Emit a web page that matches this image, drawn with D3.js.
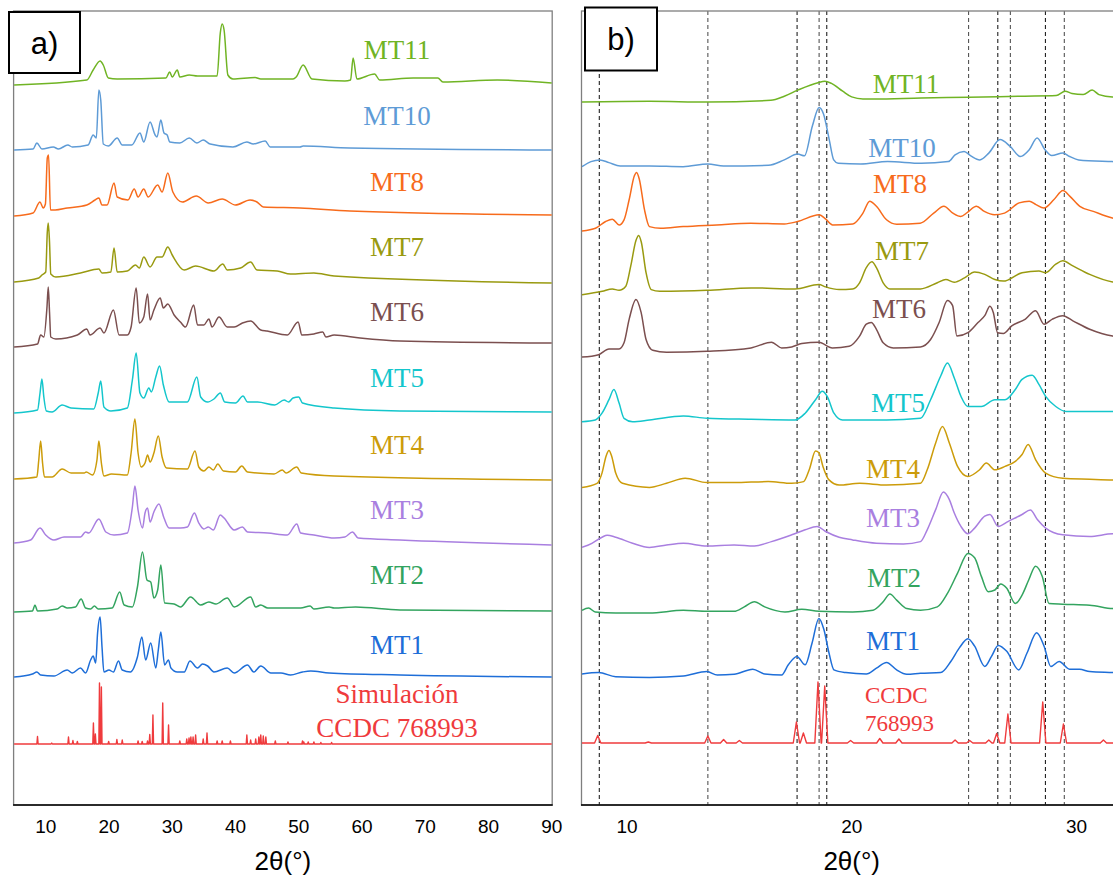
<!DOCTYPE html>
<html>
<head>
<meta charset="utf-8">
<script src="https://cdn.jsdelivr.net/npm/d3@7"></script>
<style>
  body { margin: 0; background: #fff; }
  svg { display: block; }
  .tick-label { font-family: "Liberation Sans", Arial, sans-serif; font-size: 19px; fill: #000; }
  .axis-title { font-family: "Liberation Sans", Arial, sans-serif; font-size: 26px; fill: #000; }
  .series-label { font-family: "Liberation Serif", "Times New Roman", serif; font-size: 27px; }
</style>
</head>
<body>
<svg id="chart"></svg>
<script>
const W = 1113, H = 876;

// ---- data ----
const samples = ["MT11", "MT10", "MT8", "MT7", "MT6", "MT5", "MT4", "MT3", "MT2", "MT1"];
const simName = ["Simulación", "CCDC 768993"];
const ticksA = [10, 20, 30, 40, 50, 60, 70, 80, 90];
const ticksB = [10, 20, 30];
// vertical offsets (a.u.) used to stack the patterns
const offsetsA = [720, 655, 589, 523, 458, 392, 325, 262, 193, 128];
const offsetsB = [703, 639, 575, 512, 452, 385, 320, 260, 193, 130];
const simOffsetA = 61, simOffsetB = 62;
// reference peak positions (2θ) marked in panel b
const refLines = [8.77, 13.6, 17.57, 18.55, 18.89, 25.2, 26.5, 27.06, 28.62, 29.46];

// panel a: full range 5-90
const mt11A = [[5,0],[16.5,5],[17.5,15],[18.6,24],[19.1,20],[19.9,7],[21.3,6],[29.0,7],[29.6,13],[30.0,8],[30.8,15],[31.2,8],[32.7,10],[34,9],[37.1,9],[37.6,52],[37.9,61],[38.2,55],[38.8,10],[39.6,6],[43.1,7.5],[44,6],[49.1,6],[49.6,8],[50.7,20],[52.1,6],[57.3,4],[58.2,5],[58.6,27],[59.2,6],[62.0,11],[62.8,5],[68.1,7],[72.0,7],[72.8,3],[81.4,5],[90,2]];
const mt10A = [[5,0],[8.0,1],[8.6,7],[9.4,1],[11.2,3],[12,1],[13.5,5],[14.2,3],[16.7,5],[17.5,15],[18.0,12],[18.4,60],[18.7,50],[19.1,6],[19.9,4],[21.3,12],[22.1,5],[23.6,5],[24.9,17],[25.5,8],[26.5,28],[27.3,15],[27.6,13],[28.2,30],[28.7,17],[29.2,15],[29.6,8],[31.2,7],[32.7,12],[33.9,7],[34.9,10],[36.0,6],[39.6,3],[41.8,8],[42.8,6],[44.7,9],[45.5,3],[50.2,3],[50.7,4],[58,2],[90,0]];
const mt8A = [[5,0],[8.0,3],[9.1,14],[9.6,8],[9.95,12],[10.25,58],[10.45,61],[10.75,6],[11.5,6],[13.4,8],[16.5,11],[17.8,16],[18.4,18],[18.9,11],[19.7,11],[20.8,33],[21.3,19],[23.0,16],[24.0,27],[24.6,19],[25.5,27],[26.2,19],[27.7,31],[28.4,24],[29.3,43],[30.1,24],[31.6,14],[33.8,20],[35.7,13],[37.9,17],[40.0,11],[42.3,16],[43.4,14],[44.4,9],[50.2,8],[58.1,5],[90,1]];
const mt7A = [[5,0],[8.9,4],[9.4,7],[10.0,10],[10.25,50],[10.4,59],[10.6,40],[10.8,8],[11.6,5],[15.5,9],[18.4,13],[18.9,9],[20.3,10],[20.8,34],[21.3,10],[22.9,11],[24.2,17],[24.8,14],[25.5,25],[26.5,15],[27.6,25],[28.4,25],[29.3,35],[30.0,27],[31.9,12],[33.7,16],[36.6,11],[38.0,18],[38.7,12],[40.8,14],[42.4,20],[43.4,12],[46.6,11],[48.7,8],[52.4,9],[55.6,6],[90,-1]];
const mt6A = [[5,0],[8.7,3],[9.2,12],[9.7,10],[10.2,40],[10.4,60],[10.6,35],[10.8,10],[11.6,8],[15.0,12],[16.5,18],[17.0,12],[18.6,19],[19.2,14],[20.7,37],[21.6,12],[22.9,12],[23.5,20],[24.3,59],[24.8,24],[25.5,30],[26.1,53],[26.5,27],[27.1,37],[28.1,49],[28.6,39],[29.3,43],[30.3,32],[31.3,25],[32.1,20],[33.4,42],[34.0,22],[35.0,22],[35.8,28],[36.3,20],[37.4,30],[38.7,20],[39.8,20],[41.1,24],[42.4,26],[44.0,17],[45.0,16],[48.2,12],[49.9,25],[50.5,12],[52.4,13],[53.8,15],[54.3,10],[55.6,12],[59.7,9],[66,6],[90,4]];
const mt5A = [[5,0],[8.7,3],[9.1,20],[9.4,34],[9.7,16],[10.1,2],[11.0,1],[12.6,8],[14.0,5],[17.6,4],[18.3,20],[18.7,32],[19.2,6],[20.3,2],[22.9,5],[23.7,33],[24.3,60],[24.9,20],[25.5,15],[26.3,25],[26.7,21],[27.4,36],[28.0,47],[28.6,28],[29.5,11],[32.4,11],[33.9,36],[34.5,16],[35.6,11],[36.6,14],[37.6,20],[38.3,11],[40.0,10],[41.2,17],[41.9,11],[43.5,11],[46.2,8],[47.7,13],[48.4,11],[49.1,15],[50.0,16],[50.6,10],[55.6,5],[66,2],[90,1]];
const mt4A = [[5,1],[8.6,3],[8.9,20],[9.2,39],[9.5,17],[9.8,3],[11.0,3],[12.6,11],[14.0,7],[16.1,7],[16.4,8],[17.4,5],[18.1,20],[18.4,39],[18.8,17],[19.2,4],[20.4,6],[22.9,5],[23.5,27],[24.1,61],[24.6,27],[25.1,13],[25.7,17],[26.1,25],[26.5,18],[27.1,27],[27.8,44],[28.4,23],[29.1,12],[32.4,11],[33.6,29],[34.2,13],[35.0,9],[35.8,13],[36.5,10],[37.2,16],[38.1,9],[40.0,8],[41.0,14],[41.9,8],[46.1,6],[47.4,10],[48.0,7],[49.7,13],[50.4,7],[55.6,4],[90,0]];
const mt3A = [[5,0],[7.6,3],[9.1,15],[10.0,8],[11.3,3],[12.9,6],[15.5,6],[16.3,11],[16.8,10],[18.4,24],[19.5,11],[20.8,8],[22.9,10],[23.7,36],[24.1,57],[24.6,33],[25.3,15],[25.7,30],[26.1,35],[26.5,21],[27.1,31],[27.9,39],[28.7,25],[29.5,15],[31.3,15],[32.4,16],[33.5,30],[34.2,20],[35.0,14],[35.7,16],[36.5,13],[37.6,28],[38.2,25],[39.8,13],[41.1,16],[41.9,11],[45.1,10],[48.2,8],[49.7,19],[50.3,10],[52.4,8],[55.6,5],[57.3,6],[58.5,11],[59.4,5],[66,3],[90,-2]];
const mt2A = [[5,0],[7.9,1],[8.3,7],[8.7,1],[11.8,3],[12.6,6],[13.4,4],[14.7,5],[15.6,13],[16.3,4],[17.1,3],[17.7,6],[18.3,3],[20.5,4],[21.7,20],[22.4,7],[23.7,5],[24.5,25],[25.3,60],[26.0,32],[26.6,30],[27.1,14],[27.7,22],[28.2,47],[28.8,9],[30.3,8],[31.3,5],[32.9,15],[34.5,7],[35.8,10],[36.9,8],[38.7,14],[39.8,5],[42.4,15],[43.2,5],[44.0,7],[45.1,4],[47.2,4],[50.3,4],[51.8,6],[52.4,3],[54.8,5],[55.6,4],[59.0,5],[66,2],[90,1]];
const mt1A = [[5,0],[7.9,3],[8.6,5],[9.2,2],[11.3,1],[13.4,7],[14.2,4],[15.5,9],[16.3,4],[17.1,17],[17.5,21],[17.9,14],[18.2,44],[18.6,60],[18.9,30],[19.2,5],[20.0,7],[20.7,5],[21.5,16],[22.1,7],[23.4,5],[24.5,20],[25.2,40],[25.8,17],[26.6,34],[27.4,9],[27.8,27],[28.2,45],[28.8,12],[29.4,17],[29.8,9],[30.8,5],[31.9,5],[32.8,16],[34.0,9],[34.8,13],[35.6,11],[36.6,5],[38.7,9],[39.8,4],[41.9,12],[42.9,5],[44.0,11],[45.6,4],[47.2,4],[48.7,2],[50.6,5],[51.9,6],[54.8,4],[66,2],[90,0]];

// panel b: zoom 8-32
const mt11B = [[8,0],[11,0.7],[13.6,0],[16.4,1.7],[17.0,5.8],[17.6,11.9],[18.5,19.3],[18.8,20.7],[19.1,18.6],[19.6,10.8],[20.0,5.1],[20.5,3],[21,3],[23.1,4],[25.2,4.7],[27.6,5.8],[29.1,6.4],[29.5,10.8],[29.8,8.5],[30.3,7.4],[30.7,11.9],[31.0,7.4],[31.6,5.1],[32,5]];
const mt10B = [[8,-0.7],[8.4,4.4],[8.8,6.1],[9.2,3.4],[9.7,0],[11,0],[12.5,-0.7],[13.6,2],[14.3,0],[16.3,0.7],[17.0,6.1],[17.6,11.9],[17.9,10.2],[18.25,40],[18.55,58.6],[18.75,51.8],[19.0,26.4],[19.2,6.1],[19.4,2.7],[20.4,2],[21.6,4.4],[23.1,2.7],[24.3,4.4],[24.6,11.2],[25.0,14.6],[25.3,10.2],[25.7,6.1],[26.1,12.9],[26.6,26.4],[27.05,19.6],[27.5,9.5],[27.9,16.3],[28.25,28.1],[28.6,16.3],[28.9,10.5],[29.4,12.9],[29.7,9.5],[30.1,6.1],[31.6,4.4],[32,4]];
const mt8B = [[8,-1],[8.6,1.7],[9.05,8.5],[9.35,10.8],[9.65,5.1],[9.87,10.2],[10.1,30.5],[10.33,54.2],[10.43,57.6],[10.55,50.8],[10.78,20.3],[11.0,3.4],[11.5,1.7],[12.5,3.4],[14.0,5.1],[15.5,6.8],[17.0,6.1],[17.6,8.5],[18.55,15.2],[18.85,10.8],[19.15,5.1],[20.05,6.1],[20.5,16.9],[20.8,28.8],[21.1,23.7],[21.55,10.2],[22.0,5.8],[23.05,6.8],[23.65,16.9],[24.1,23.7],[24.5,16.9],[24.85,13.5],[25.15,17.6],[25.55,23.7],[25.9,18.6],[26.35,15.2],[26.8,16.9],[27.45,27.1],[27.9,28.8],[28.2,25.4],[28.55,22],[29.0,30.5],[29.4,39.6],[29.7,33.9],[30.15,23.7],[30.75,18.6],[31.6,11.9],[32,10]];
const mt7B = [[8,-1.7],[8.9,1.7],[9.35,4.1],[9.65,2.7],[9.95,6.8],[10.17,27.1],[10.4,52.5],[10.52,57.6],[10.64,50.8],[10.85,20.3],[11.08,3.4],[11.46,1.7],[13.56,2.7],[15.52,5.1],[17.48,4.1],[18.54,8.5],[18.84,6.1],[19.44,3.4],[20.04,4.1],[20.35,10.2],[20.65,25.4],[20.9,31.2],[21.1,25.4],[21.4,10.2],[21.7,4.1],[23.06,4.1],[23.81,10.2],[24.19,13.5],[24.56,10.8],[25.02,15.2],[25.47,21],[25.92,18.6],[26.37,13.5],[26.75,11.9],[27.58,20.3],[28.33,22],[28.63,20.3],[29.08,28.8],[29.39,32.2],[29.84,27.1],[30.59,18.6],[31.61,11],[32,10]];
const mt6B = [[8,-4.1],[8.74,-1.7],[9.2,4.1],[9.65,4.1],[9.87,10.2],[10.1,33.9],[10.4,53.5],[10.63,40.6],[10.85,13.5],[11.15,2.7],[11.76,0.7],[13.56,1.7],[15.52,5.1],[16.43,10.8],[16.88,5.1],[17.33,6.1],[17.78,9.5],[18.54,10.8],[19.14,5.1],[19.89,6.8],[20.35,16.9],[20.65,28.8],[20.87,30.5],[21.1,23.7],[21.4,10.2],[21.85,5.1],[23.06,6.1],[23.51,13.5],[23.89,30.5],[24.26,52.5],[24.49,47.4],[24.68,16.9],[25.17,20.3],[25.62,30.5],[25.92,37.3],[26.15,46.7],[26.3,40.6],[26.49,20.3],[26.75,19.6],[27.12,27.1],[27.73,33.9],[28.18,42.3],[28.56,28.8],[28.93,33.9],[29.39,37.3],[29.84,32.2],[30.59,23.7],[31.61,16.9],[32,16]];
const mt5B = [[8,-1.7],[8.59,0],[8.89,6.8],[9.2,20.3],[9.42,30.5],[9.65,16.9],[9.87,1.7],[10.25,-1.7],[11.0,0],[12.51,4.1],[13.56,1.7],[15.52,0.7],[17.48,0],[17.93,6.8],[18.39,20.3],[18.69,28.8],[18.91,23.7],[19.21,6.8],[19.59,0],[21.55,0],[23.06,1.7],[23.51,20.3],[23.96,44],[24.26,56.9],[24.56,42.3],[24.86,23.7],[25.17,13.5],[25.77,13.5],[26.37,20.3],[26.82,20.3],[27.28,30.5],[27.58,40.6],[28.03,44.7],[28.33,35.6],[28.63,23.7],[29.08,13.5],[29.54,8.5],[31.61,8.5],[32,8.5]];
const mt4B = [[8,-2.4],[8.67,1.7],[8.89,11.9],[9.07,28.8],[9.2,34.5],[9.32,28.8],[9.5,11.9],[9.8,1.7],[11.0,-2.4],[11.76,1.7],[12.59,6.8],[13.56,2.4],[14.77,2.4],[16.28,3.4],[17.33,1.7],[17.86,3.4],[18.11,15.2],[18.39,33.9],[18.54,32.2],[18.72,18.6],[18.99,5.1],[19.44,0],[20.35,1.7],[21.55,0],[23.06,1.7],[23.36,15.2],[23.74,42.3],[24.04,58.6],[24.34,42.3],[24.71,18.6],[25.17,8.5],[25.69,15.2],[25.99,22],[26.37,15.2],[26.82,18.6],[27.28,23.7],[27.58,30.5],[27.85,40.6],[28.18,25.4],[28.63,11.9],[29.39,6.8],[30.59,5.8],[31.61,5.1],[32,5]];
const mt3B = [[8,-2.4],[8.44,1.7],[8.89,7.8],[9.12,9.8],[9.5,7.8],[10.25,1.7],[11.0,-2.4],[11.76,0],[12.51,1.7],[13.56,-1],[14.77,0],[15.67,-1],[16.43,3.4],[17.33,10.2],[17.93,15.2],[18.46,18.6],[18.84,13.5],[19.44,7.8],[20.04,5.1],[21.1,1.7],[22.3,1],[23.06,3.4],[23.36,15.2],[23.74,35.6],[24.08,53.1],[24.34,45.7],[24.56,32.2],[24.86,18.6],[25.17,11.2],[25.47,16.9],[25.92,28.8],[26.15,30.5],[26.52,18.6],[26.97,23.7],[27.58,30.5],[27.95,34.9],[28.26,25.4],[28.63,16.9],[29.39,10.2],[30.59,8.5],[31.61,11.2],[32,11]];
const mt2B = [[8,1.7],[8.29,4.1],[8.59,0],[9.5,-1],[11.0,-1],[12.51,1.7],[13.56,0.7],[14.77,0.7],[15.22,5.1],[15.67,10.2],[16.13,5.1],[17.03,0],[17.78,2.7],[18.54,0.7],[20.04,0],[20.95,1.7],[21.4,10.2],[21.7,17.9],[22.0,11.9],[22.45,3.4],[23.06,1.7],[23.81,5.1],[24.26,18.6],[24.71,38.9],[25.17,58.6],[25.47,54.2],[25.77,35.6],[26.07,20.3],[26.37,22],[26.63,28.1],[26.9,23.7],[27.28,8.5],[27.58,16.9],[27.88,32.2],[28.18,45.7],[28.48,35.6],[28.78,8.5],[29.39,7.8],[30.59,6.8],[31.61,3.4],[32,3]];
const mt1B = [[8,1],[8.74,2.4],[9.5,-1.7],[11.0,-2.4],[12.51,-1],[13.56,3.4],[14.02,0],[14.77,0.7],[15.6,5.8],[16.13,1],[16.88,0],[17.18,10.2],[17.56,18.6],[17.93,10.2],[18.24,32.2],[18.54,56.6],[18.76,45.7],[18.99,22],[19.21,5.1],[19.74,2.4],[20.65,1],[21.1,6.8],[21.55,12.5],[22.0,5.1],[22.45,0.7],[23.06,1.7],[23.96,2.4],[24.41,13.5],[24.79,27.1],[25.17,36.2],[25.47,28.8],[25.92,8.5],[26.22,18.6],[26.52,29.5],[26.9,23.7],[27.43,5.1],[27.8,22],[28.23,42.3],[28.56,28.8],[28.86,8.5],[29.23,13.5],[29.69,5.8],[30.14,5.8],[30.59,3.4],[31.61,2.4],[32,2]];

// simulated pattern (CCDC 768993): peak position, intensity
const simPeaks = [[8.7,7.5],[10.95,1],[13.6,7],[14.3,3.5],[15.0,2.5],[17.54,21],[17.85,10],[18.5,61],[18.8,57],[19.95,2.5],[21.25,4.5],[22.1,4],[24.6,3],[25.25,2.5],[26.1,3],[26.45,9.5],[26.95,29],[28.5,41],[29.42,19],[31.2,3],[32.3,5],[32.66,6],[32.95,7],[33.3,7],[33.7,9],[34.9,5],[35.5,11],[37.1,3],[37.9,3],[39.2,3],[41.8,9],[42.4,4],[43.2,5],[43.7,7],[44.0,9],[44.4,8],[44.8,7],[46.3,3],[48.3,2],[50.6,3],[50.8,2],[51.5,2],[52.4,2],[53.5,1.5],[55.2,1.5]];

const seriesA = [mt11A, mt10A, mt8A, mt7A, mt6A, mt5A, mt4A, mt3A, mt2A, mt1A];
const seriesB = [mt11B, mt10B, mt8B, mt7B, mt6B, mt5B, mt4B, mt3B, mt2B, mt1B];

// ---- styles / layout ----
const colors = ["#70b424", "#5e9bd6", "#f76b1c", "#999a10", "#7b4f4f", "#14c6cc", "#cc9c0a", "#a97fe0", "#33a45f", "#1e6ed8"];
const simColor = "#ef3b3d";
const labelA = [59, 125, 191, 256, 321, 387, 454, 519, 584, 654];
const labelBx = [906, 902, 900, 902, 899, 898, 893, 893, 894, 893];
const labelBy = [93, 157, 193, 260, 318, 412, 478, 527, 587, 650];

const plotTop = 11, plotBottom = 805;

const svg = d3.select("#chart").attr("width", W).attr("height", H);

const y = d3.scaleLinear().domain([0, 794]).range([plotBottom, plotTop]);
const xA = d3.scaleLinear().domain([5, 90]).range([14.1, 551.7]);
const xB = d3.scaleLinear().domain([8, 32]).range([582, 1121.4]);

svg.append("clipPath").attr("id", "clipB")
  .append("rect").attr("x", 582).attr("y", plotTop).attr("width", W - 582).attr("height", plotBottom - plotTop);

/** Build a stick-like line from the simulated peak list */
const simLine = (dom, w) => {
  const pts = [[dom[0], 0]];
  simPeaks.filter((p) => p[0] > dom[0] && p[0] < dom[1])
    .forEach(([px, h]) => { pts.push([px - w, 0], [px, h], [px + w, 0]); });
  pts.push([dom[1], 0]);
  return pts;
};

function drawPanel(g, x, series, offsets, simOffset, simW, ticks) {
  const [x0, x1] = x.range();

  // frame
  g.append("rect")
    .attr("x", x0 - 0.5).attr("y", plotTop)
    .attr("width", x1 - x0 + 1).attr("height", plotBottom - plotTop)
    .attr("fill", "none").attr("stroke", "#7f7f7f").attr("stroke-width", 1.3);
  g.append("line")
    .attr("x1", x0 - 1).attr("x2", x1 + 1).attr("y1", plotBottom).attr("y2", plotBottom)
    .attr("stroke", "#000").attr("stroke-width", 1.5);

  // tick labels
  g.selectAll(".tick-label").data(ticks).enter().append("text")
    .attr("class", "tick-label")
    .attr("x", (d) => x(d)).attr("y", 833)
    .attr("text-anchor", "middle")
    .text((d) => d);

  g.append("text").attr("class", "axis-title")
    .attr("x", x(x.domain()[0] + (x === xA ? 42.5 : 12)) - (x === xA ? 0 : 0))
    .attr("y", 870).attr("text-anchor", "middle")
    .text("2θ(°)");

  const plot = g.append("g");

  series.forEach((data, i) => {
    const line = d3.line()
      .x((d) => x(d[0]))
      .y((d) => y(d[1] + offsets[i]))
      .curve(d3.curveMonotoneX);
    plot.append("path")
      .attr("d", line(data))
      .attr("fill", "none")
      .attr("stroke", colors[i])
      .attr("stroke-width", 1.5)
      .attr("stroke-linejoin", "round");
  });

  const sLine = d3.line()
    .x((d) => x(d[0]))
    .y((d) => y(d[1] + simOffset));
  plot.append("path")
    .attr("d", sLine(simLine(x.domain(), simW)))
    .attr("fill", "none")
    .attr("stroke", simColor)
    .attr("stroke-width", 1.4)
    .attr("stroke-linejoin", "round");

  return plot;
}

// panel a
const gA = svg.append("g");
drawPanel(gA, xA, seriesA, offsetsA, simOffsetA, 0.1, ticksA);
gA.selectAll(".series-label").data(samples).enter().append("text")
  .attr("class", "series-label")
  .attr("x", 397).attr("y", (d, i) => labelA[i])
  .attr("text-anchor", "middle")
  .attr("fill", (d, i) => colors[i])
  .text((d) => d);
gA.selectAll(".sim-label").data(simName).enter().append("text")
  .attr("class", "series-label sim-label")
  .attr("x", 397).attr("y", (d, i) => [703, 737][i])
  .attr("text-anchor", "middle")
  .attr("fill", simColor)
  .text((d) => d);

// panel b
const gB = svg.append("g");
// reference dashed lines first so the patterns sit on top
gB.selectAll(".ref").data(refLines).enter().append("line")
  .attr("x1", (d) => xB(d)).attr("x2", (d) => xB(d))
  .attr("y1", plotTop).attr("y2", plotBottom)
  .attr("stroke", (d, i) => (i % 2 ? "#555" : "#222"))
  .attr("stroke-width", 1.1)
  .attr("stroke-dasharray", "4,3");
const plotB = drawPanel(gB, xB, seriesB, offsetsB, simOffsetB, 0.14, ticksB);
plotB.attr("clip-path", "url(#clipB)");
gB.selectAll(".series-label").data(samples).enter().append("text")
  .attr("class", "series-label")
  .attr("x", (d, i) => labelBx[i]).attr("y", (d, i) => labelBy[i])
  .attr("text-anchor", "middle")
  .attr("fill", (d, i) => colors[i])
  .text((d) => d);
gB.selectAll(".sim-label").data(["CCDC", "768993"]).enter().append("text")
  .attr("class", "series-label sim-label")
  .attr("x", 865).attr("y", (d, i) => [703, 731][i])
  .style("font-size", "23px")
  .attr("fill", simColor)
  .text((d) => d);

/** Panel letter boxes */
const boxes = [
  { t: "a)", x: 9, y: 12, w: 71, h: 61 },
  { t: "b)", x: 585, y: 7.5, w: 72, h: 63 },
];
boxes.forEach((b) => {
  svg.append("rect")
    .attr("x", b.x).attr("y", b.y).attr("width", b.w).attr("height", b.h)
    .attr("fill", "#fff").attr("stroke", "#000").attr("stroke-width", 2);
  svg.append("text")
    .attr("x", b.x + b.w / 2).attr("y", b.y + b.h / 2 + 11)
    .attr("text-anchor", "middle")
    .attr("font-family", "Liberation Sans, Arial, sans-serif")
    .attr("font-size", 31)
    .text(b.t);
});
</script>
</body>
</html>
